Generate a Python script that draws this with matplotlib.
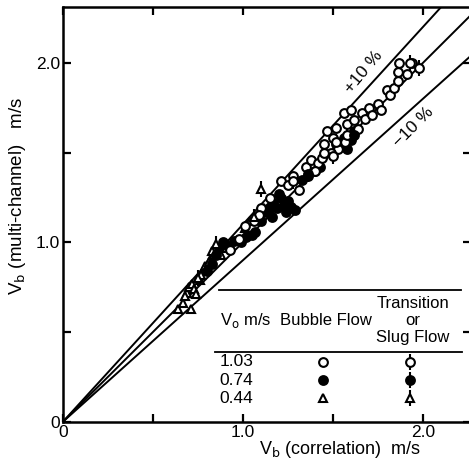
import matplotlib
matplotlib.use("Agg")
import matplotlib.pyplot as plt
import numpy as np

plt.rcParams['font.family'] = ['Liberation Sans', 'DejaVu Sans']

# ---- data ----
# Bubble flow, Vo = 1.03 m/s (open circles)
open_x = [0.93, 0.98, 1.01, 1.06, 1.10, 1.09, 1.15, 1.21, 1.25, 1.28, 1.31, 1.35, 1.38, 1.42,
          1.45, 1.47, 1.50, 1.52, 1.53, 1.56, 1.58, 1.60, 1.61, 1.62, 1.64, 1.66, 1.68, 1.70,
          1.72, 1.75, 1.77, 1.80, 1.82, 1.84, 1.86, 1.87, 1.91, 1.94, 1.57, 1.49, 1.44, 1.40]
open_y = [0.96, 1.02, 1.09, 1.12, 1.19, 1.15, 1.25, 1.34, 1.32, 1.37, 1.29, 1.42, 1.46, 1.44,
          1.55, 1.62, 1.58, 1.64, 1.52, 1.72, 1.66, 1.74, 1.60, 1.68, 1.63, 1.72, 1.69, 1.75,
          1.71, 1.77, 1.74, 1.85, 1.82, 1.86, 1.95, 2.00, 1.94, 2.00, 1.56, 1.50, 1.47, 1.40]
# Bubble flow, Vo = 0.74 m/s (filled circles)
fill_x = [0.80, 0.83, 0.85, 0.87, 0.89, 0.92, 0.95, 0.99, 1.02, 1.05, 1.07, 1.10, 1.13, 1.15,
          1.17, 1.19, 1.21, 1.23, 1.25, 1.27, 1.29, 1.16, 1.20, 1.24, 1.33, 1.36, 1.40, 1.43,
          1.52, 1.56, 1.60, 1.62, 1.58]
fill_y = [0.84, 0.88, 0.93, 0.97, 1.00, 0.98, 1.01, 1.00, 1.03, 1.04, 1.06, 1.12, 1.17, 1.20,
          1.22, 1.19, 1.25, 1.21, 1.23, 1.20, 1.18, 1.14, 1.27, 1.17, 1.35, 1.37, 1.40, 1.42,
          1.55, 1.58, 1.57, 1.62, 1.52]
# Bubble flow, Vo = 0.44 m/s (triangles)
tri_x = [0.64, 0.67, 0.69, 0.70, 0.72, 0.73, 0.75, 0.76, 0.78, 0.79, 0.80, 0.82, 0.83, 0.84,
         0.86, 0.88, 0.71, 0.74, 0.77, 0.81, 0.68, 0.90, 1.01, 1.04, 1.08, 1.12]
tri_y = [0.63, 0.66, 0.72, 0.75, 0.77, 0.74, 0.80, 0.79, 0.84, 0.87, 0.86, 0.90, 0.95, 0.93,
         0.96, 0.93, 0.63, 0.71, 0.82, 0.89, 0.70, 0.97, 1.08, 1.12, 1.14, 1.19]
# Transition or slug flow
topen_x = [1.98, 1.93, 1.86, 1.52, 1.50, 1.45, 1.58, 1.28]
topen_y = [1.97, 2.00, 1.90, 1.56, 1.48, 1.50, 1.60, 1.34]
tfill_x = [1.62, 1.36]
tfill_y = [1.60, 1.38]
ttri_x = [1.10, 1.06, 0.85, 0.75]
ttri_y = [1.30, 1.14, 0.99, 0.80]

# reference lines
ratios = [1.10, 1.00, 0.90]

# legend table
leg_vo = ['1.03', '0.74', '0.44']
leg_y = [0.334, 0.232, 0.130]
trans_lines = ['Transition', 'or', 'Slug Flow']
trans_y = [0.661, 0.567, 0.472]

xticks = [0, 0.5, 1.0, 1.5, 2.0]
ticklabels = ['0', '', '1.0', '', '2.0']

FS = 12.5
LFS = 12

fig = plt.figure(figsize=(4.69, 4.61), dpi=100)
ax = fig.add_axes([0.134, 0.085, 0.870, 0.899])
ax.set_xlim(0, 2.267)
ax.set_ylim(0, 2.31)

xx = np.array([0, 2.4])
for r in ratios:
    ax.plot(xx, r * xx, color='black', lw=1.4, zorder=2)

ms = 6.3
mew = 1.5
kw_open = dict(marker='o', ms=ms, mfc='white', mec='black', mew=mew, ls='none', zorder=4)
kw_fill = dict(marker='o', ms=ms, mfc='black', mec='black', mew=mew, ls='none', zorder=4)
kw_tri = dict(marker='^', ms=ms, mfc='white', mec='black', mew=mew, ls='none', zorder=4)
kw_stem = dict(marker='|', ms=11, mec='black', mew=1.5, ls='none', zorder=3)

ax.plot(tri_x, tri_y, **kw_tri)
ax.plot(fill_x, fill_y, **kw_fill)
ax.plot(open_x, open_y, **kw_open)

ax.plot(topen_x, topen_y, **kw_stem)
ax.plot(topen_x, topen_y, **kw_open)
ax.plot(tfill_x, tfill_y, **kw_stem)
ax.plot(tfill_x, tfill_y, **kw_fill)
ax.plot(ttri_x, ttri_y, **kw_stem)
ax.plot(ttri_x, ttri_y, **kw_tri)

# +/-10% labels
ax.text(1.67, 1.95, '+10 %', rotation=50, fontsize=FS, ha='center', va='center')
ax.text(1.95, 1.64, '−10 %', rotation=45, fontsize=FS, ha='center', va='center')

# legend table
ax.plot([0.87, 2.21], [0.733, 0.733], color='black', lw=1.3)
ax.plot([0.845, 2.215], [0.39, 0.39], color='black', lw=1.3)
ax.text(0.872, 0.567, r'V$_\mathrm{o}$ m/s', fontsize=LFS, ha='left', va='center')
ax.text(1.46, 0.567, 'Bubble Flow', fontsize=LFS, ha='center', va='center')
for s, yv in zip(trans_lines, trans_y):
    ax.text(1.944, yv, s, fontsize=LFS, ha='center', va='center')
for s, yv in zip(leg_vo, leg_y):
    ax.text(0.872, yv, s, fontsize=FS, ha='left', va='center')
ax.plot([1.446], [leg_y[0]], **kw_open)
ax.plot([1.446], [leg_y[1]], **kw_fill)
ax.plot([1.446], [leg_y[2]], **kw_tri)
ax.plot([1.928] * 3, leg_y, **kw_stem)
ax.plot([1.928], [leg_y[0]], **kw_open)
ax.plot([1.928], [leg_y[1]], **kw_fill)
ax.plot([1.928], [leg_y[2]], **kw_tri)

ax.set_xticks(xticks)
ax.set_xticklabels(ticklabels)
ax.set_yticks(xticks)
ax.set_yticklabels(ticklabels)
ax.tick_params(direction='in', length=6, width=1.6, top=True, right=True,
               labelsize=FS, pad=2)
for sp in ax.spines.values():
    sp.set_linewidth(1.8)

ax.set_xlabel(r'V$_\mathrm{b}$ (correlation)  m/s', fontsize=13)
ax.xaxis.set_label_coords(0.68, -0.042)
ax.set_ylabel(r'V$_\mathrm{b}$ (multi-channel)   m/s', fontsize=13.5)
ax.yaxis.set_label_coords(-0.085, 0.545)

fig.savefig('out.png', dpi=100)
